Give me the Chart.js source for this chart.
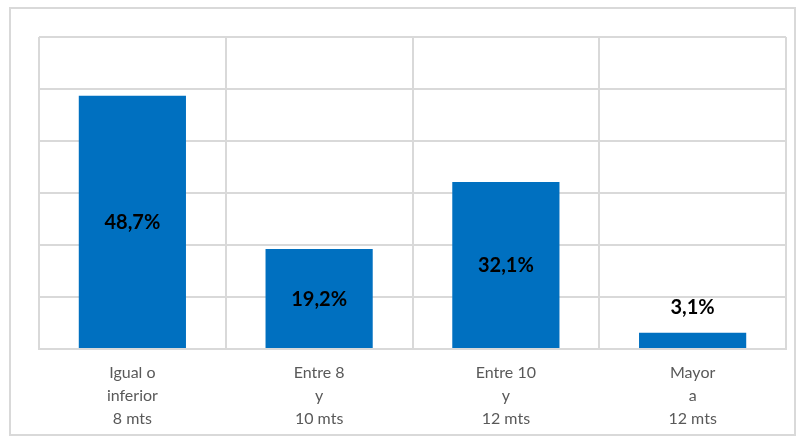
<!DOCTYPE html>
<html>
<head>
<meta charset="utf-8">
<script src="https://cdn.jsdelivr.net/npm/chart.js@4"></script>
<style>
  html, body { margin: 0; padding: 0; background: #fff; overflow: hidden; }
  #wrap { width: 800px; height: 441px; overflow: hidden; }
</style>
</head>
<body>
<div id="wrap"><canvas id="myChart" width="800" height="444"></canvas></div>
<script>
const categories = [
  ['Igual o', 'inferior', '8 mts'],
  ['Entre 8', 'y', '10 mts'],
  ['Entre 10', 'y', '12 mts'],
  ['Mayor', 'a', '12 mts']
];
const percentages = [48.7, 19.2, 32.1, 3.1];
const yMax = 60;
const yStep = 10;

const barColor = '#0070c0';
const gridColor = '#d9d9d9';

// outer frame of the chart
const framePlugin = {
  id: 'frame',
  beforeDraw(chart) {
    const c = chart.ctx;
    c.save();
    c.fillStyle = '#fff';
    c.fillRect(0, 0, chart.width, chart.height);
    c.strokeStyle = gridColor;
    c.lineWidth = 2;
    c.strokeRect(10, 8, 785, 427);
    c.restore();
  }
};

// percent labels, inside the bar or just above a short one
const valueLabels = {
  id: 'valueLabels',
  afterDatasetsDraw(chart) {
    const c = chart.ctx;
    const meta = chart.getDatasetMeta(0);
    c.save();
    c.font = 'bold 20px Lato, "Open Sans", sans-serif';
    c.fillStyle = '#000';
    c.textAlign = 'center';
    c.textBaseline = 'middle';
    meta.data.forEach((bar, i) => {
      const txt = percentages[i].toFixed(1).replace('.', ',') + '%';
      let y = (bar.y + bar.base) / 2;
      if (bar.base - bar.y < 40) y = bar.y - 26;
      c.fillText(txt, bar.x, y + 1);
    });
    c.restore();
  }
};

const ctx = document.getElementById('myChart');
const chart = new Chart(ctx, {
  type: 'bar',
  data: {
    labels: categories,
    datasets: [{
      data: percentages,
      backgroundColor: barColor,
      borderWidth: 0,
      barPercentage: 0.574,
      categoryPercentage: 1
    }]
  },
  options: {
    responsive: false,
    animation: false,
    layout: { padding: { left: 39, top: 37, right: 14, bottom: 1 } },
    plugins: {
      legend: { display: false },
      tooltip: { enabled: false }
    },
    scales: {
      x: {
        grid: { color: gridColor, lineWidth: 2, offset: true, drawTicks: false },
        border: { color: gridColor, width: 2 },
        ticks: {
          color: '#595959',
          font: { family: 'Lato, "Open Sans", sans-serif', size: 16, lineHeight: 1.46 },
          padding: 12,
          maxRotation: 0
        }
      },
      y: {
        min: 0,
        max: yMax,
        grid: { color: gridColor, lineWidth: 2, drawTicks: false },
        border: { display: false },
        ticks: { display: false, stepSize: yStep }
      }
    }
  },
  plugins: [framePlugin, valueLabels]
});
</script>
</body>
</html>
